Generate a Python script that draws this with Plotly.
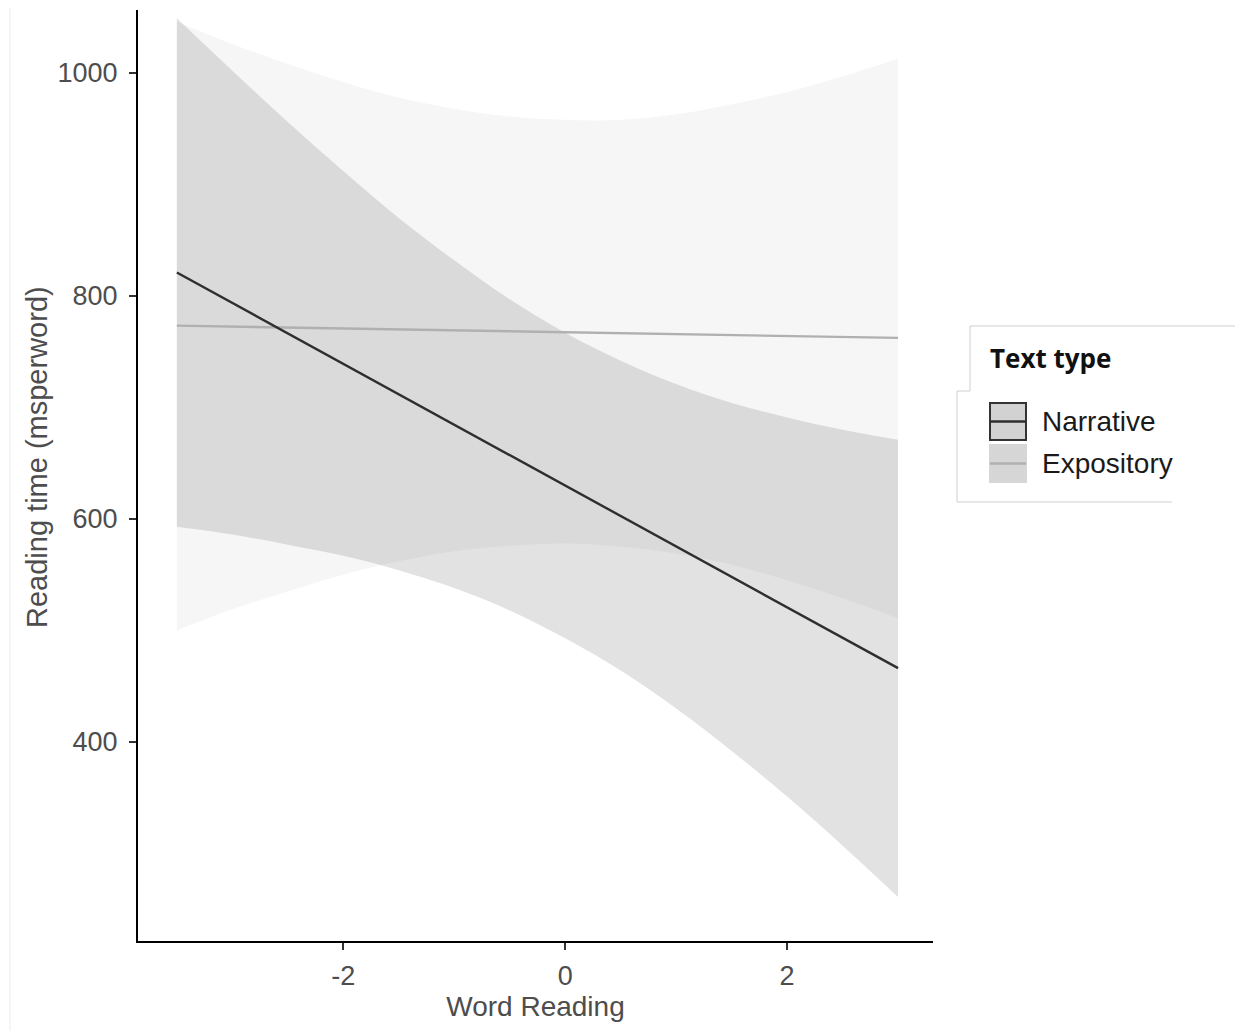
import plotly.graph_objects as go

# Word Reading values (x)
word_reading = [-3.5, -3.0, -2.5, -2.0, -1.5, -1.0, -0.5, 0.0, 0.5, 1.0, 1.5, 2.0, 2.5, 3.0]

# Narrative fitted line and 95% band
narr_fit = [821.1, 793.8, 766.5, 739.2, 711.9, 684.6, 657.3, 630.0, 602.7, 575.4, 548.1, 520.8, 493.5, 466.2]
narr_upper = [1049, 1002, 956, 912, 870, 832, 797, 767, 742, 721, 704, 691, 680, 671]
narr_lower = [593, 586, 577, 567, 554, 538, 518, 493, 464, 430, 392, 351, 307, 261]

# Expository fitted line and 95% band
expo_fit = [773.4, 772.6, 771.8, 770.9, 770.1, 769.2, 768.4, 767.5, 766.7, 765.8, 765.0, 764.1, 763.3, 762.4]
expo_upper = [1046, 1026, 1008, 992, 978, 968, 961, 958, 958, 963, 972, 983, 997, 1013]
expo_lower = [500, 519, 535, 550, 562, 571, 576, 578, 575, 569, 559, 545, 529, 511]

x_ticks = [-2, 0, 2]
y_ticks = [400, 600, 800, 1000]

FONT = "Liberation Sans, Arial, sans-serif"

fig = go.Figure()

# Expository band
fig.add_trace(go.Scatter(x=word_reading, y=expo_lower, mode="lines",
                         line=dict(width=0, shape="spline"), hoverinfo="skip",
                         showlegend=False))
fig.add_trace(go.Scatter(x=word_reading, y=expo_upper, mode="lines",
                         line=dict(width=0, shape="spline"), fill="tonexty",
                         fillcolor="rgba(0,0,0,0.035)", hoverinfo="skip",
                         showlegend=False))
# Narrative band
fig.add_trace(go.Scatter(x=word_reading, y=narr_lower, mode="lines",
                         line=dict(width=0, shape="spline"), hoverinfo="skip",
                         showlegend=False))
fig.add_trace(go.Scatter(x=word_reading, y=narr_upper, mode="lines",
                         line=dict(width=0, shape="spline"), fill="tonexty",
                         fillcolor="rgba(0,0,0,0.115)", hoverinfo="skip",
                         showlegend=False))
# Lines
fig.add_trace(go.Scatter(x=word_reading, y=expo_fit, mode="lines", name="Expository",
                         line=dict(color="#b0b0b0", width=2.4), showlegend=False))
fig.add_trace(go.Scatter(x=word_reading, y=narr_fit, mode="lines", name="Narrative",
                         line=dict(color="#2e2e2e", width=2.4), showlegend=False))

W, H = 1243, 1031
OFF = 8  # page body margin
L, R, T, B = 138 - OFF, 933 - OFF, 10 - OFF, 941 - OFF


def px(xp):
    return (xp - OFF - L) / (R - L)


def py(yp):
    return (B - (yp - OFF)) / (B - T)


shapes = []
# faint image border at left
shapes.append(dict(type="line", xref="paper", yref="paper", x0=px(10), x1=px(10),
                   y0=py(8), y1=py(1031), line=dict(color="#ececec", width=1)))
# legend border (stepped as in reference)
border = "#cfcfcf"
for (x0, y0, x1, y1) in [(970, 326, 1243, 326), (970, 326, 970, 391), (957, 391, 970, 391),
                         (957, 391, 957, 502), (957, 502, 1172, 502)]:
    shapes.append(dict(type="line", xref="paper", yref="paper", x0=px(x0), x1=px(x1),
                       y0=py(y0), y1=py(y1), line=dict(color=border, width=1)))
# legend keys
shapes.append(dict(type="rect", xref="paper", yref="paper", x0=px(990), x1=px(1026),
                   y0=py(440), y1=py(403), fillcolor="#d2d2d2",
                   line=dict(color="#333333", width=2)))
shapes.append(dict(type="line", xref="paper", yref="paper", x0=px(990), x1=px(1026),
                   y0=py(421.5), y1=py(421.5), line=dict(color="#2e2e2e", width=2.4)))
shapes.append(dict(type="rect", xref="paper", yref="paper", x0=px(989), x1=px(1027),
                   y0=py(483), y1=py(444), fillcolor="#d6d6d6", line=dict(width=0)))
shapes.append(dict(type="line", xref="paper", yref="paper", x0=px(990), x1=px(1026),
                   y0=py(463.5), y1=py(463.5), line=dict(color="#b0b0b0", width=2.4)))

annotations = [
    dict(text="<b>Text type</b>", xref="paper", yref="paper", x=px(988), y=py(358),
         xanchor="left", yanchor="middle", showarrow=False,
         font=dict(family="Open Sans, Liberation Sans, sans-serif", size=26, color="#111111")),
    dict(text="Narrative", xref="paper", yref="paper", x=px(1040), y=py(422),
         xanchor="left", yanchor="middle", showarrow=False,
         font=dict(family=FONT, size=28, color="#1a1a1a")),
    dict(text="Expository", xref="paper", yref="paper", x=px(1040), y=py(464),
         xanchor="left", yanchor="middle", showarrow=False,
         font=dict(family=FONT, size=28, color="#1a1a1a")),
    dict(text="Reading time (msperword)", xref="paper", yref="paper", x=px(37), y=py(457),
         xanchor="center", yanchor="middle", textangle=-90, showarrow=False,
         font=dict(family=FONT, size=29, color="#4d4d4d")),
]

fig.update_layout(
    width=W, height=H,
    margin=dict(l=L, r=W - R, t=T, b=H - B, pad=0),
    paper_bgcolor="white", plot_bgcolor="white",
    showlegend=False,
    shapes=shapes, annotations=annotations,
    font=dict(family=FONT, color="#4d4d4d"),
    xaxis=dict(range=[-3.85, 3.315], tickvals=x_ticks, ticktext=[str(v) for v in x_ticks],
               showgrid=False, zeroline=False, showline=True, linecolor="black", linewidth=2,
               ticks="outside", ticklen=7, tickwidth=1.5, tickcolor="#333333",
               ticklabelstandoff=3,
               tickfont=dict(size=27, color="#4d4d4d"),
               title=dict(text="Word Reading", font=dict(size=28, color="#4d4d4d"), standoff=4)),
    yaxis=dict(range=[221.5, 1056.5], tickvals=y_ticks, ticktext=[str(v) for v in y_ticks],
               showgrid=False, zeroline=False, showline=True, linecolor="black", linewidth=2,
               ticks="outside", ticklen=7, tickwidth=1.5, tickcolor="#333333",
               ticklabelstandoff=6,
               tickfont=dict(size=27, color="#4d4d4d")),
)

fig.write_html("out.html")
